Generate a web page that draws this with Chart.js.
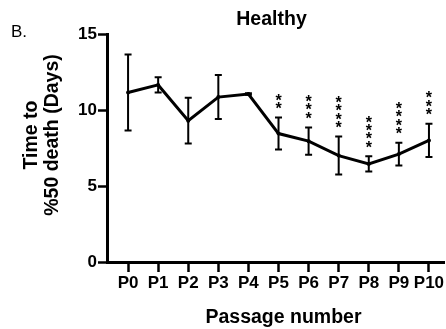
<!DOCTYPE html>
<html>
<head>
<meta charset="utf-8">
<script src="https://cdn.jsdelivr.net/npm/chart.js@4.4.1/dist/chart.umd.min.js"></script>
<style>
  body { margin: 0; background: #fff; }
  #wrap { width: 446px; height: 329px; position: relative; }
</style>
</head>
<body>
<div id="wrap"><canvas id="passage_chart"></canvas></div>
<script>
const categories = ['P0', 'P1', 'P2', 'P3', 'P4', 'P5', 'P6', 'P7', 'P8', 'P9', 'P10'];
const means = [11.15, 11.65, 9.3, 10.85, 11.05, 8.45, 7.95, 7.0, 6.45, 7.1, 8.0];
const errors = [2.5, 0.5, 1.5, 1.45, 0.05, 1.05, 0.9, 1.25, 0.5, 0.75, 1.1];
const stars = ['', '', '', '', '', '**', '***', '****', '****', '****', '***'];
const yTicks = [0, 5, 10, 15];

const FONT = "'Liberation Sans', Arial, sans-serif";

// error bars under the line
const errorBars = {
    id: 'errorBars',
    beforeDatasetsDraw(chart) {
        const { ctx, scales: { x, y } } = chart;
        ctx.save();
        ctx.strokeStyle = '#000';
        ctx.lineWidth = 2;
        means.forEach((m, i) => {
            const px = x.getPixelForValue(i);
            const top = y.getPixelForValue(m + errors[i]);
            const bot = y.getPixelForValue(m - errors[i]);
            ctx.beginPath();
            ctx.moveTo(px, top); ctx.lineTo(px, bot);
            ctx.moveTo(px - 3.5, top); ctx.lineTo(px + 3.5, top);
            ctx.moveTo(px - 3.5, bot); ctx.lineTo(px + 3.5, bot);
            ctx.stroke();
        });
        ctx.restore();
    }
};

// significance stars, titles and panel letter
const annotations = {
    id: 'annotations',
    afterDraw(chart) {
        const { ctx, scales: { x, y } } = chart;
        ctx.save();
        ctx.fillStyle = '#000';

        ctx.font = 'bold 16px ' + FONT;
        ctx.textAlign = 'center';
        ctx.textBaseline = 'alphabetic';
        stars.forEach((s, i) => {
            const px = x.getPixelForValue(i);
            const base = y.getPixelForValue(means[i] + errors[i]) - 13;
            for (let k = 0; k < s.length; k++) {
                ctx.fillText('*', px, base - k * 8.3 + 9.3);
            }
        });

        ctx.font = 'bold 19.5px ' + FONT;
        ctx.fillText('Healthy', 271.5, 25);
        ctx.fillText('Passage number', 283.5, 323);

        ctx.font = '17px ' + FONT;
        ctx.textAlign = 'left';
        ctx.fillText('B.', 11, 37);

        ctx.font = 'bold 19.5px ' + FONT;
        ctx.textAlign = 'center';
        ctx.translate(0, 135);
        ctx.rotate(-Math.PI / 2);
        ctx.fillText('Time to', 0, 37);
        ctx.fillText('%50 death (Days)', 0, 58);
        ctx.restore();
    }
};

document.addEventListener('DOMContentLoaded', function () {
    const ctx = document.getElementById('passage_chart').getContext('2d');

    new Chart(ctx, {
        type: 'line',
        data: {
            datasets: [{
                label: 'Healthy',
                data: means.map((m, i) => ({ x: i, y: m })),
                borderColor: '#000',
                backgroundColor: '#000',
                borderWidth: 3,
                pointRadius: 2,
                pointBorderWidth: 0,
                pointHoverRadius: 2,
                tension: 0
            }]
        },
        options: {
            responsive: true,
            maintainAspectRatio: false,
            animation: false,
            layout: { padding: { top: 34, left: 0, right: 0, bottom: 0 } },
            plugins: {
                legend: { display: false },
                tooltip: { enabled: false }
            },
            scales: {
                x: {
                    type: 'linear',
                    min: -0.7,
                    max: 10.5,
                    afterBuildTicks: function (scale) {
                        scale.ticks = categories.map((c, i) => ({ value: i }));
                    },
                    afterFit: function (scale) { scale.height = 67; },
                    border: { display: true, color: '#000', width: 3 },
                    grid: {
                        drawOnChartArea: false,
                        drawTicks: true,
                        tickLength: 10,
                        tickWidth: 2.5,
                        tickColor: '#000'
                    },
                    ticks: {
                        color: '#000',
                        padding: 1.5,
                        maxRotation: 0,
                        autoSkip: false,
                        font: { family: FONT, size: 17, weight: 'bold' },
                        callback: function (v) { return categories[v]; }
                    }
                },
                y: {
                    min: 0,
                    max: 15,
                    afterBuildTicks: function (scale) {
                        scale.ticks = yTicks.map(v => ({ value: v }));
                    },
                    afterFit: function (scale) { scale.width = 107; },
                    border: { display: true, color: '#000', width: 3 },
                    grid: {
                        drawOnChartArea: false,
                        drawTicks: true,
                        tickLength: 9,
                        tickWidth: 2.5,
                        tickColor: '#000'
                    },
                    ticks: {
                        color: '#000',
                        padding: 1,
                        font: { family: FONT, size: 17, weight: 'bold' }
                    }
                }
            }
        },
        plugins: [errorBars, annotations]
    });
});
</script>
</body>
</html>
